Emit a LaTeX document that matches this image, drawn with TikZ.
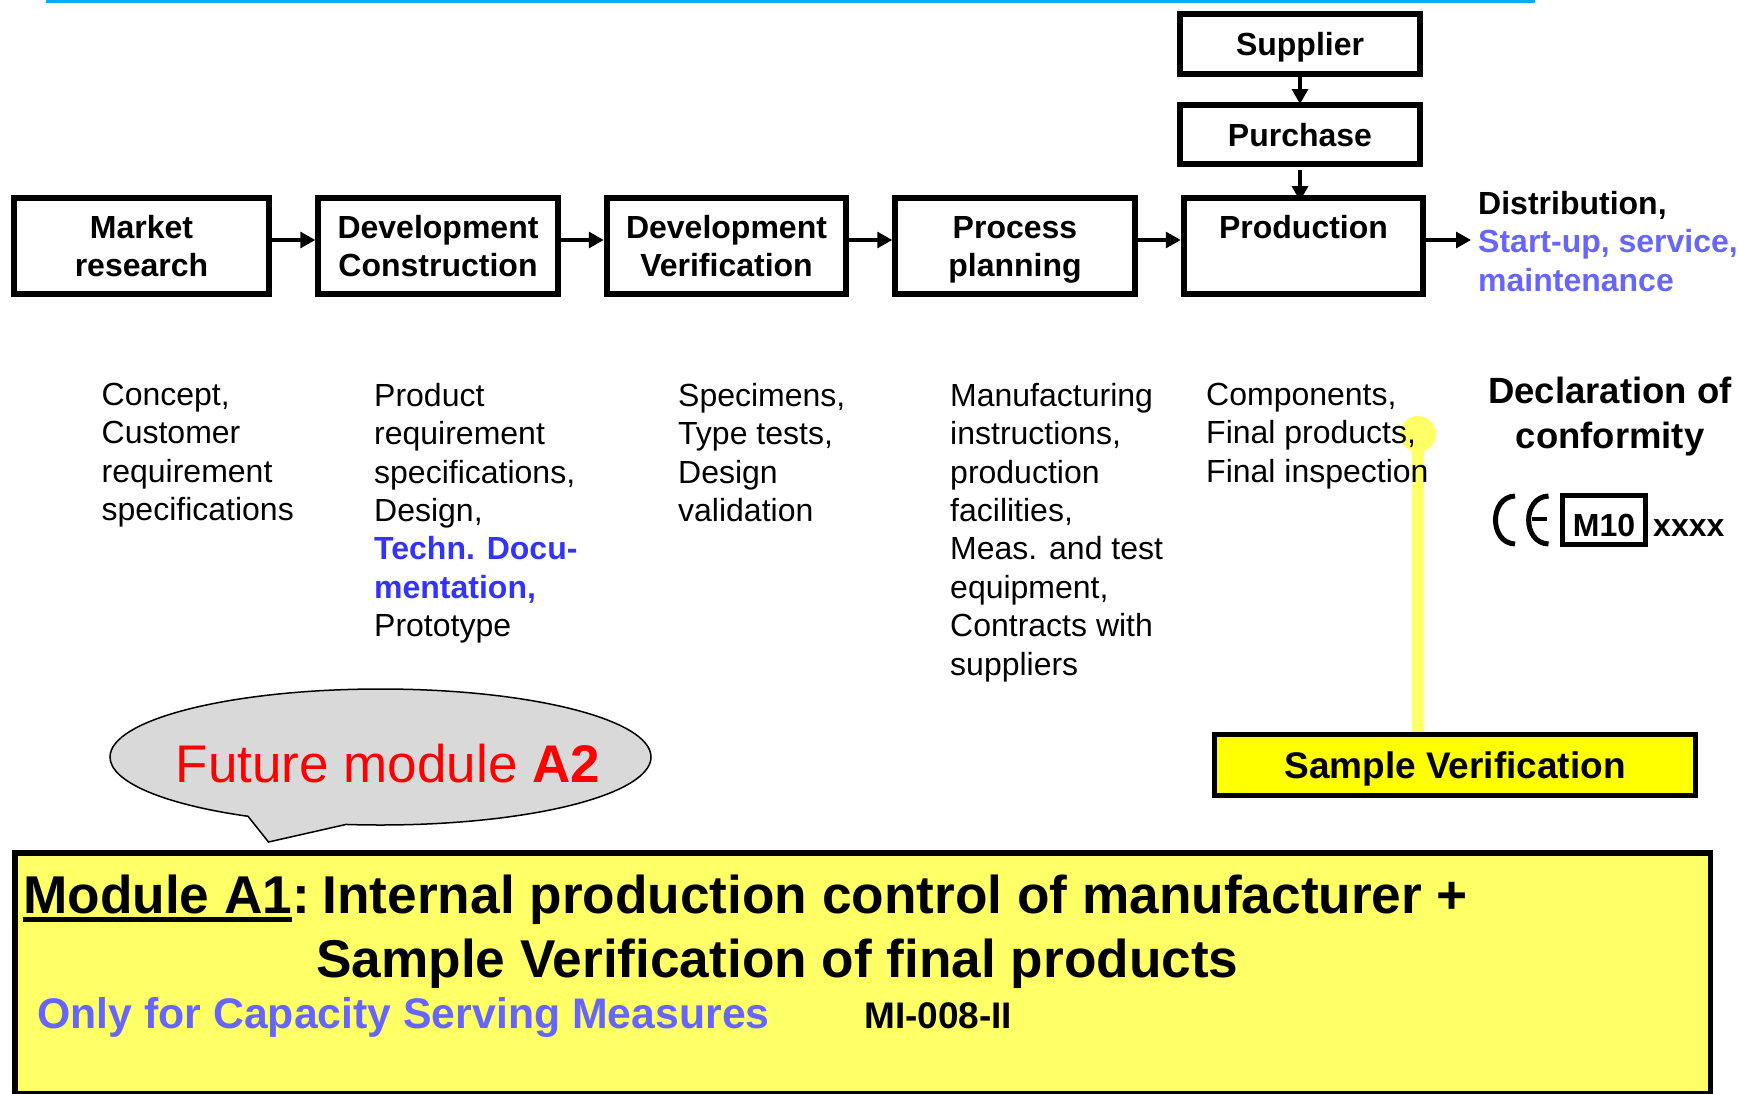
\documentclass[tikz,border=0pt]{standalone}
\usepackage{fontspec}
\setmainfont{Liberation Sans}
\usetikzlibrary{positioning,arrows.meta,shapes.geometric,shapes.callouts}
\definecolor{lightblue}{HTML}{6666FF}
\definecolor{strongblue}{HTML}{3333FF}
\definecolor{paleyellow}{HTML}{FFFF66}
\definecolor{brightyellow}{HTML}{FFFF00}
\definecolor{topline}{HTML}{00B0F0}
\newcommand{\ulword}[1]{\setbox0=\hbox{#1}\rlap{\rule[-9pt]{\wd0}{5pt}}\box0}

\begin{document}
\begin{tikzpicture}[x=1pt, y=-1pt,
stepnode/.style={rectangle, draw=black, line width=6pt, minimum width=239.5pt, minimum height=96pt, align=center, inner sep=0pt, font=\fontsize{32}{38}\selectfont\bfseries},
topnode/.style={stepnode, minimum width=240.5pt, minimum height=60pt, text height=23pt, text depth=0pt},
textnode/.style={anchor=north west, align=left, inner sep=0pt, font=\fontsize{32}{38.4}\selectfont},
titlenode/.style={anchor=base west, inner sep=0pt, font=\fontsize{53.2}{60}\selectfont\bfseries},
flow/.style={-{Triangle[length=15pt,width=16pt]}, line width=3.3pt},
]
\useasboundingbox (0,0) rectangle (1738,1093);
\coordinate (lineleft) at (46,1.5);
\coordinate (lineright) at (1535,1.5);
\draw[topline, line width=3pt] (lineleft) -- (lineright);

%Nodes
\node[stepnode, minimum width=255.5pt] (market) at (141.5,246) {Market\\research};
\node[stepnode] (devcon) [right=43pt of market] {Development\\Construction};
\node[stepnode] (devver) [right=43pt of devcon] {Development\\Verification};
\node[stepnode] (process) [right=43pt of devver] {Process\\\smash{planning}};
\node[stepnode] (production) [right=43pt of process] {Production\\ ~};
\node[topnode, minimum height=59pt] (purchase) at (1300,134.5) {Purchase};
\node[topnode] (supplier) at (1300,44) {Supplier};

\node[stepnode, fill=brightyellow, minimum width=481pt, minimum height=61pt, line width=5pt, font=\fontsize{37}{44}\selectfont\bfseries, text height=27pt, text depth=0pt] (sample) at (1455,765) {Sample Verification};
\node[circle, fill=paleyellow, minimum size=36pt, inner sep=0pt] (dot) at (1418,434) {};
\draw[paleyellow, line width=12pt] (dot.center) -- (dot.center |- sample.north);

\node[anchor=north west, align=left, inner sep=0pt, font=\fontsize{32}{38.5}\selectfont\bfseries] (distribution) at (1478,191) {Distribution,\\\textcolor{lightblue}{Start-up, service,}\\\textcolor{lightblue}{maintenance}};

\node[textnode] (concept) at (101.5,383) {Concept,\\Customer\\requirement\\specifications};
\node[textnode] (product) at (374,383) {Product\\requirement\\specifications,\\Design,\\\textcolor{strongblue}{\textbf{Techn. Docu-}}\\\textcolor{strongblue}{\textbf{mentation,}}\\Prototype};
\node[textnode] (specimens) at (678,383) {Specimens,\\Type tests,\\Design\\validation};
\node[textnode] (manufacturing) at (950,383) {Manufacturing\\instructions,\\production\\facilities,\\Meas. and test\\equipment,\\Contracts with\\suppliers};
\node[textnode] (components) at (1206,383) {Components,\\Final products,\\Final inspection};

\node[align=center, inner sep=0pt, font=\fontsize{36.5}{45}\selectfont\bfseries] (declaration) at (1610,416.5) {Declaration of\\conformity};
\node[rectangle, draw=black, line width=5pt, anchor=base, minimum width=83.5pt, text height=41pt, text depth=8.5pt, inner sep=0pt, font=\fontsize{32}{38}\selectfont\bfseries] (mten) at (1604,536) {M10};
\node[anchor=base west, inner sep=0pt, font=\fontsize{32}{38}\selectfont\bfseries] (xxxx) at (1653,536) {xxxx};

\node[ellipse callout, draw=black, fill=black!15, line width=1.5pt, minimum width=541pt, minimum height=136pt, inner sep=0pt, callout absolute pointer={(268.5,842)}, callout pointer arc=22] (future) at (380.5,757) {};
\node[anchor=base, inner sep=0pt, font=\fontsize{53}{60}\selectfont, text=red] (futurelabel) at (388,782) {Future module \textbf{A2}};

\node[rectangle, draw=black, fill=paleyellow, line width=5.5pt, minimum width=1695.5pt, minimum height=241pt, inner sep=0pt] (module) at (862.5,973.5) {};
\node[titlenode] (title) at (23,913) {\ulword{Module A1}:\kern-2pt\ Internal production control of manufacturer +};
\node[titlenode] (titlesecond) at (316,977) {Sample Verification of final products};
\node[titlenode, font=\fontsize{42.8}{50}\selectfont\bfseries, text=lightblue] (capacity) at (37,1028) {Only for Capacity Serving Measures};
\node[titlenode, font=\fontsize{37}{42}\selectfont\bfseries] (mi) at (864,1028) {MI-008-II};

%CE mark
\draw[line width=5pt] (1515,496) .. controls (1489,497) and (1489,543) .. (1515,544);
\draw[line width=5pt] (1548.5,496) .. controls (1522,497) and (1522,543) .. (1548.5,544);
\draw[line width=4pt] (1532,519) -- (1547,519);

%Lines
\draw[flow] ([yshift=6pt]market.east) -- ([yshift=6pt]devcon.west);
\draw[flow] ([yshift=6pt]devcon.east) -- ([yshift=6pt]devver.west);
\draw[flow] ([yshift=6pt]devver.east) -- ([yshift=6pt]process.west);
\draw[flow] ([yshift=6pt]process.east) -- ([yshift=6pt]production.west);
\draw[flow] ([yshift=6pt]production.east) -- ([yshift=6pt,xshift=-7pt]distribution.west |- production.east);
\draw[flow, shorten >=-2pt] (supplier.south) -- (purchase.north);
\draw[flow, shorten <=3pt, shorten >=-6pt] (purchase.south) -- (purchase.south |- production.north);
\end{tikzpicture}
\end{document}
